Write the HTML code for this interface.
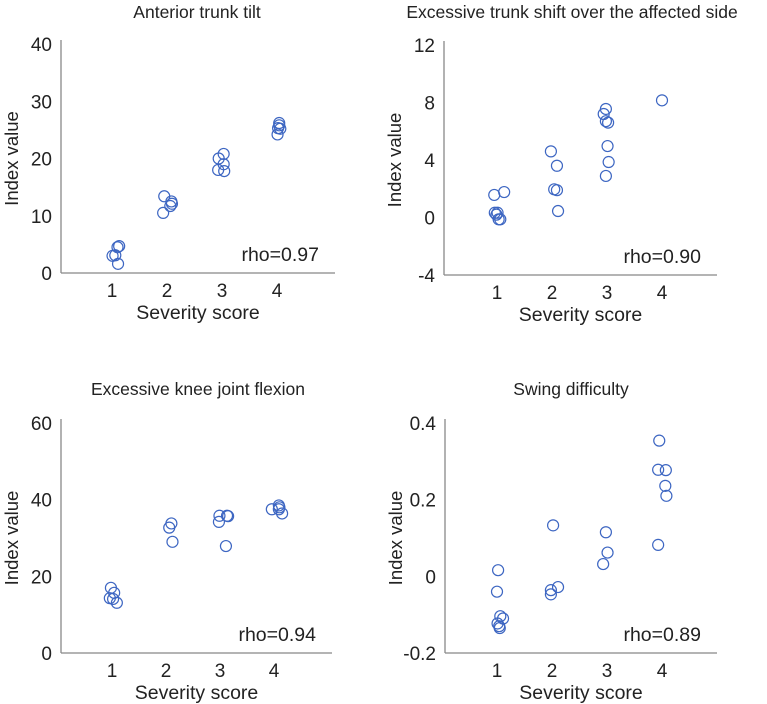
<!DOCTYPE html>
<html><head><meta charset="utf-8"><style>
body{margin:0;background:#fff;}
svg{display:block;font-family:"Liberation Sans",Arial,sans-serif;}
</style></head><body>
<svg id="chart" width="767" height="704" viewBox="0 0 767 704"></svg>
<script>
// Panel 1: Anterior trunk tilt
const p1X = [1.10,1.13,1.01,1.06,1.11, 1.95,2.08,2.09,2.06,1.93, 3.03,2.94,3.03,2.93,3.04, 4.04,4.04,4.06,4.02,4.01];
const p1Y = [4.5,4.7,3.0,3.1,1.6, 13.4,12.5,12.1,11.7,10.5, 20.8,20.0,19.0,18.0,17.8, 26.2,25.8,25.2,25.3,24.2];
const p1Ticks = [0,10,20,30,40];
// Panel 2: Excessive trunk shift
const p2X = [0.95,1.13,0.96,1.01,0.99,1.03,1.06, 1.98,2.09,2.04,2.09,2.11, 2.98,2.94,2.98,3.02,3.01,3.03,2.98, 4.00];
const p2Y = [1.57,1.77,0.33,0.33,0.2,-0.13,-0.13, 4.6,3.6,1.96,1.9,0.45, 7.55,7.2,6.7,6.6,4.97,3.86,2.89, 8.15];
const p2Ticks = [-4,0,4,8,12];
// Panel 3: Excessive knee joint flexion
const p3X = [0.98,1.04,0.96,1.02,1.09, 2.10,2.06,2.12, 2.99,3.13,3.15,2.98,3.11, 3.96,4.09,4.10,4.09,4.15];
const p3Y = [17.0,15.7,14.3,14.1,13.1, 33.8,32.7,29.0, 35.8,35.8,35.7,34.2,27.9, 37.5,38.5,38.0,37.5,36.4];
const p3Ticks = [0,20,40,60];
// Panel 4: Swing difficulty
const p4X = [1.02,1.00,1.06,1.11,1.01,1.05,1.04, 2.02,2.11,1.98,1.98, 2.98,3.01,2.93, 3.95,3.93,4.07,4.06,4.08,3.93];
const p4Y = [0.016,-0.040,-0.104,-0.110,-0.123,-0.135,-0.13, 0.133,-0.028,-0.036,-0.047, 0.115,0.062,0.032, 0.354,0.278,0.277,0.236,0.210,0.082];
const p4Ticks = [-0.2,0,0.2,0.4];
const p4Labels = ["-0.2","0","0.2","0.4"];
const xCats = [1,2,3,4];

const svg = document.getElementById('chart');
const NS = 'http://www.w3.org/2000/svg';
function mk(tag, attrs, parent){
  const e = document.createElementNS(NS, tag);
  for (const k in attrs) e.setAttribute(k, attrs[k]);
  (parent||svg).appendChild(e); return e;
}
function panel(cfg){
  const g = mk('g', {});
  
  
  const xs = v => cfg.x1 + (v-1)*cfg.dx;
  const ys = v => cfg.bottom - (v-cfg.yMin)/(cfg.yMax-cfg.yMin)*(cfg.bottom-cfg.top);
  const t = mk('text', {x:cfg.tx, y:cfg.ty, 'text-anchor':'middle', 'font-size':17.5, fill:'#222'}, g);
  t.textContent = cfg.title;
  
  
  const ya = mk('line', {x1:cfg.left, y1:cfg.top-4, x2:cfg.left, y2:cfg.bottom, stroke:'#888', 'stroke-width':1.3}, g);
  
  
  const xa = mk('line', {x1:cfg.left, y1:cfg.bottom, x2:cfg.right, y2:cfg.bottom, stroke:'#888', 'stroke-width':1.3}, g);
  
  
  cfg.ticks.forEach((v,i)=>{
    const tl = mk('text', {x:cfg.left-9, y:ys(v)+7, 'text-anchor':'end', 'font-size':19, fill:'#222'}, g);
    tl.textContent = cfg.labels ? cfg.labels[i] : String(v);
    
    
  });
  xCats.forEach(v=>{
    const tl = mk('text', {x:xs(v), y:cfg.bottom+24, 'text-anchor':'middle', 'font-size':19, fill:'#222'}, g);
    tl.textContent = String(v);
    
    
  });
  const xt = mk('text', {x:(cfg.left+cfg.right)/2, y:cfg.bottom+46, 'text-anchor':'middle', 'font-size':19.5, fill:'#222'}, g);
  xt.textContent = 'Severity score';
  
  
  const cy = (cfg.top+cfg.bottom)/2;
  const yt = mk('text', {x:cfg.left-43, y:cy, 'text-anchor':'middle', 'font-size':18.5, fill:'#222', transform:`rotate(-90 ${cfg.left-43} ${cy})`}, g);
  yt.textContent = 'Index value';
  
  
  const rho = mk('text', {x:cfg.right-16, y:cfg.bottom-12, 'text-anchor':'end', 'font-size':19.5, fill:'#222'}, g);
  rho.textContent = cfg.rho;
  
  
  cfg.xv.forEach((xv,i)=>{
    const c = mk('circle', {cx:xs(xv), cy:ys(cfg.yv[i]), r:5.5, fill:'none', stroke:'#3d66c2', 'stroke-width':1.2}, g);
    
    
  });
}
panel({name:'panel-anterior-trunk-tilt', title:'Anterior trunk tilt', tx:197, ty:18, left:61, right:335, top:44, bottom:273, x1:112, dx:55, yMin:0, yMax:40, ticks:p1Ticks, xv:p1X, yv:p1Y, rho:'rho=0.97'});
panel({name:'panel-trunk-shift', title:'Excessive trunk shift over the affected side', tx:572, ty:18, left:444, right:717, top:45, bottom:275, x1:497, dx:55, yMin:-4, yMax:12, ticks:p2Ticks, xv:p2X, yv:p2Y, rho:'rho=0.90'});
panel({name:'panel-knee-flexion', title:'Excessive knee joint flexion', tx:198, ty:395, left:61, right:332, top:423, bottom:653, x1:112, dx:54, yMin:0, yMax:60, ticks:p3Ticks, xv:p3X, yv:p3Y, rho:'rho=0.94'});
panel({name:'panel-swing-difficulty', title:'Swing difficulty', tx:571, ty:395, left:445, right:717, top:423, bottom:653, x1:497, dx:55, yMin:-0.2, yMax:0.4, ticks:p4Ticks, labels:p4Labels, xv:p4X, yv:p4Y, rho:'rho=0.89'});
</script>
</body></html>
